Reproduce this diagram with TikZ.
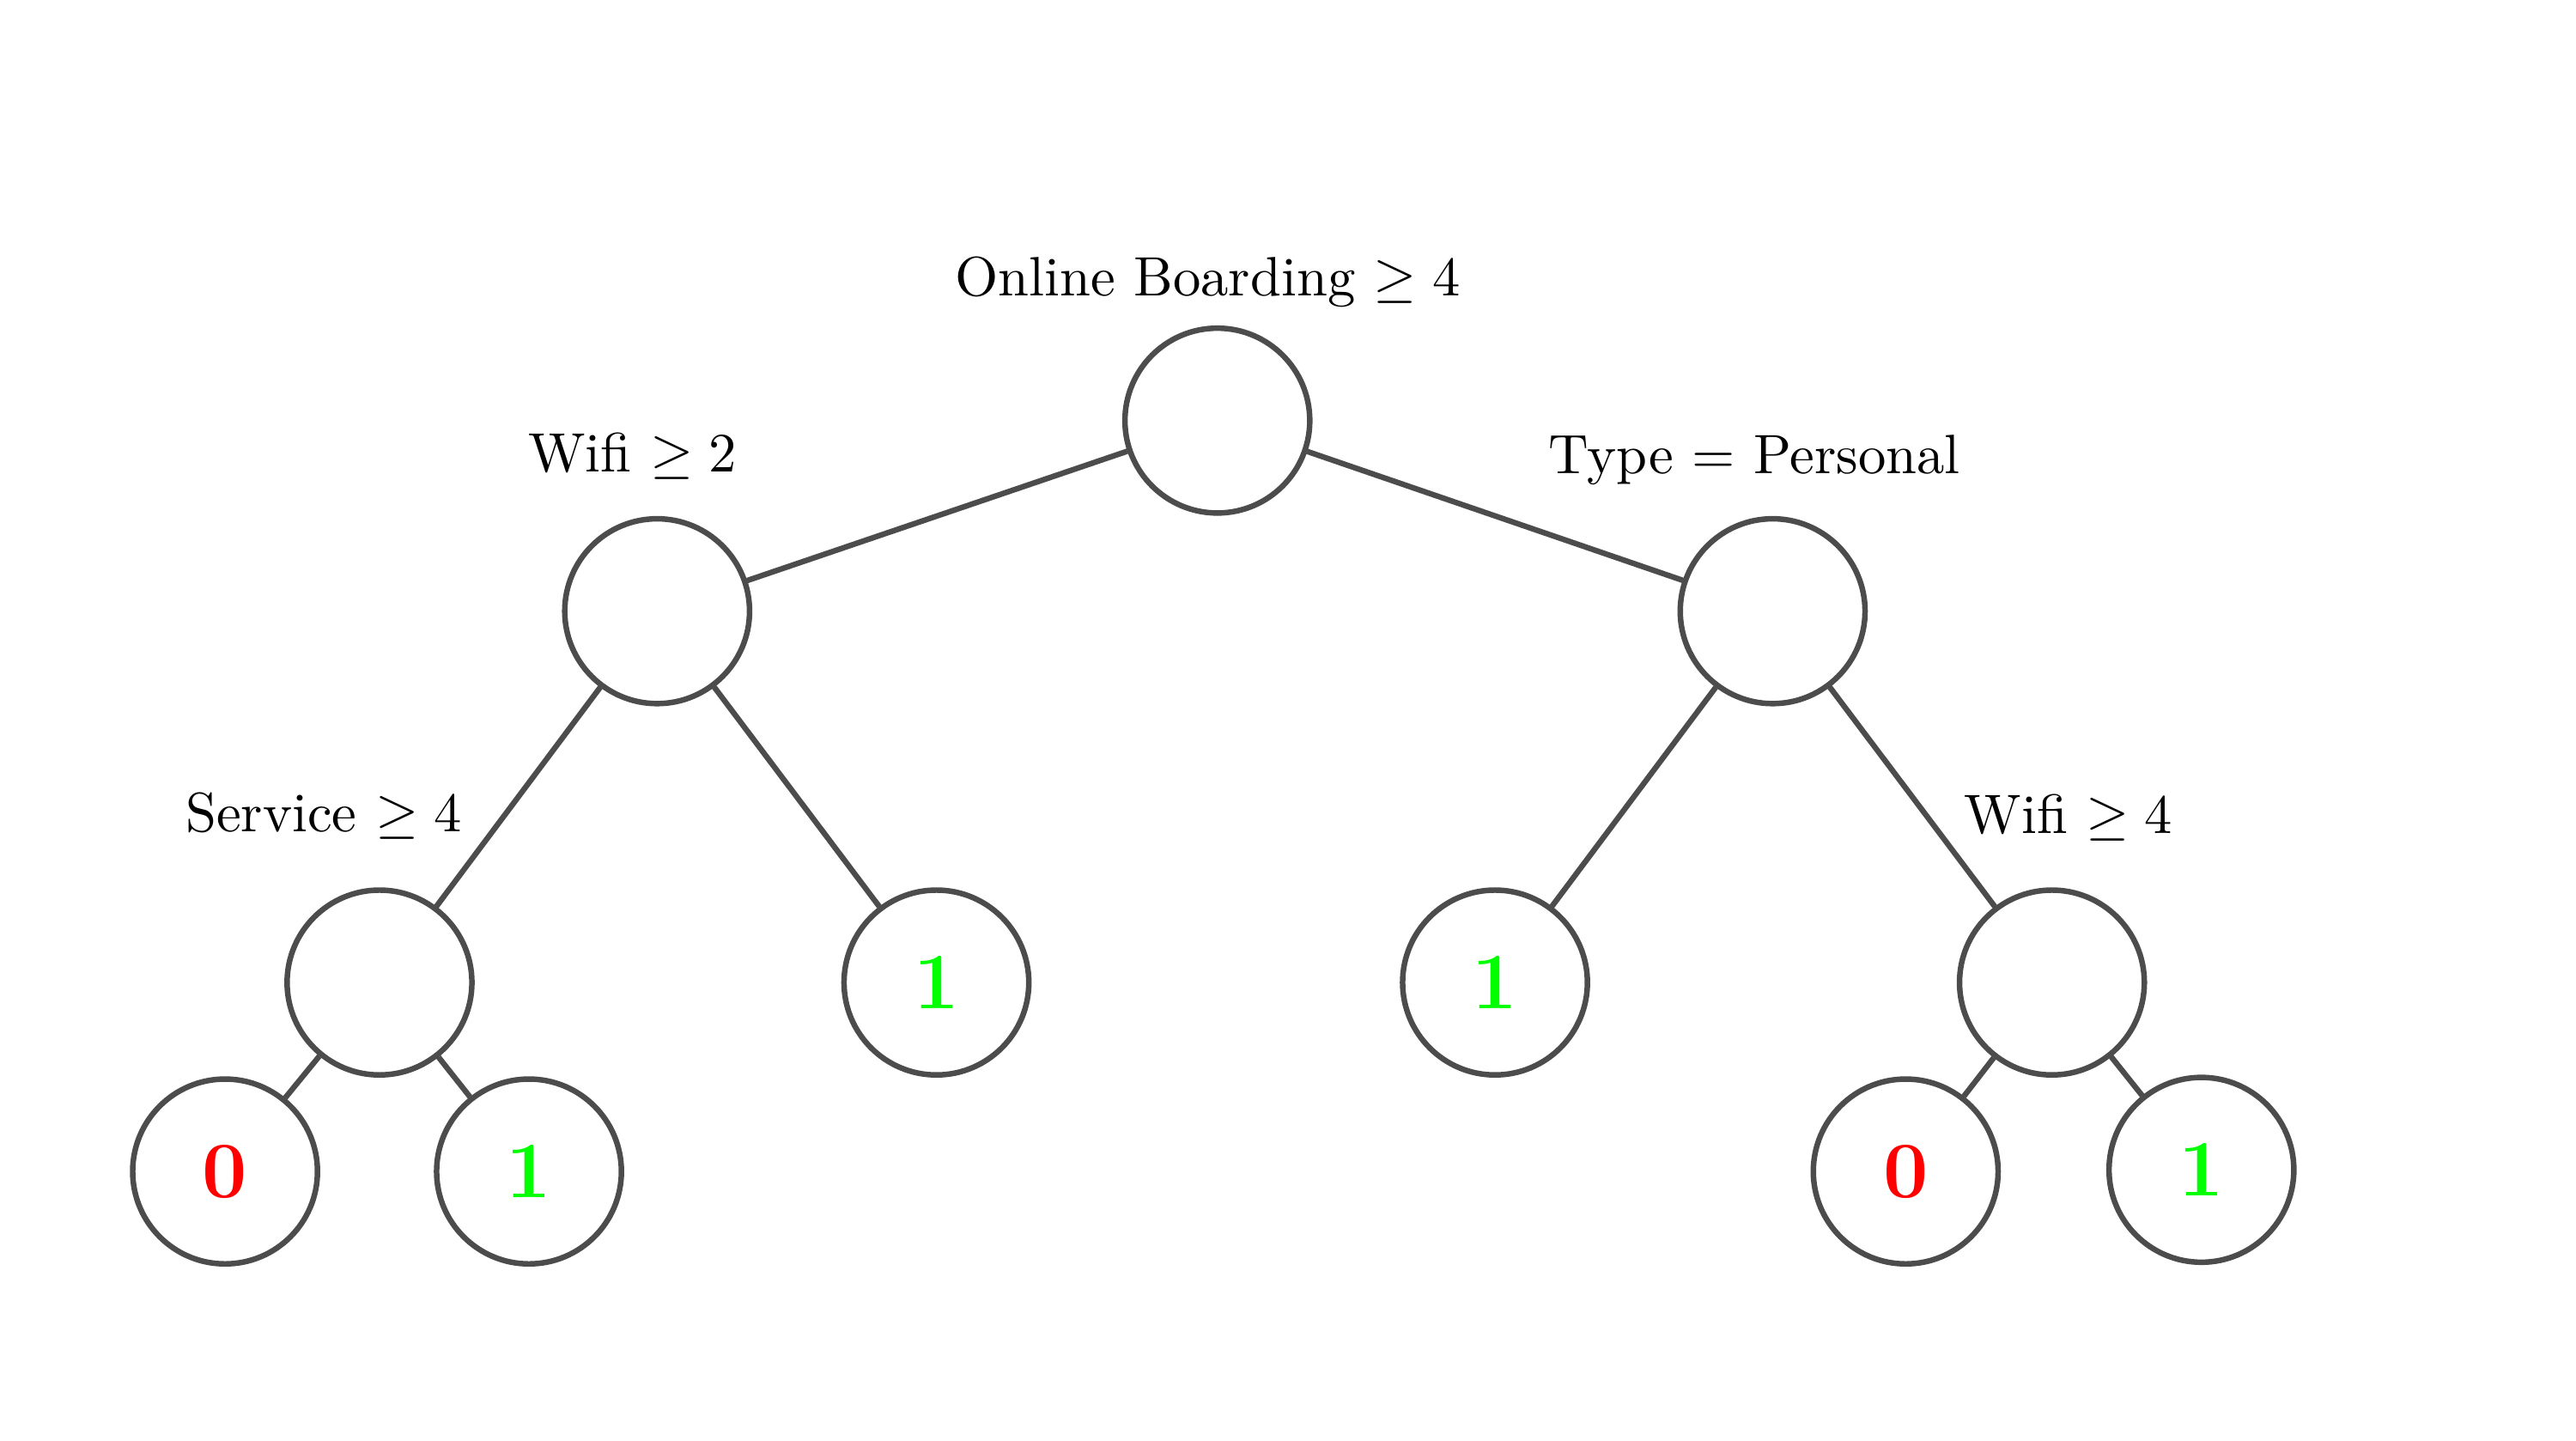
\documentclass[tikz,border=0pt]{standalone}
\usepackage{amsmath,amssymb}
\usepackage{xcolor}
\usetikzlibrary{positioning}
\definecolor{leafred}{HTML}{FF0000}
\definecolor{leafgreen}{HTML}{00FF00}
\tikzset{
  split/.style={circle,draw=black,draw opacity=0.7,line width=1pt,minimum size=1.17cm,inner sep=0pt},
  leaf/.style={split,font=\Large\bfseries},
  cond/.style={anchor=base,inner sep=0pt},
  branch/.style={draw=black,draw opacity=0.7,line width=1pt},
}

\begin{document}
\begin{tikzpicture}[x=1.04cm,y=1.04cm]
\useasboundingbox (0,0) rectangle (15.68,8.77);
% split nodes
\node[split] (root) at (7.41,6.21) {};
\node[split] (wifitwo) at (4.00,5.05) {};
\node[split] (type) at (10.79,5.05) {};
\node[split] (service) at (2.31,2.79) {};
\node[split] (wififour) at (12.49,2.79) {};

% leaves
\node[leaf,text=leafgreen] (oneA) at (5.70,2.79) {1};
\node[leaf,text=leafgreen] (oneB) at (9.10,2.79) {1};
\node[leaf,text=leafred] (zeroA) at (1.37,1.64) {0};
\node[leaf,text=leafgreen] (oneC) at (3.22,1.64) {1};
\node[leaf,text=leafred] (zeroB) at (11.60,1.64) {0};
\node[leaf,text=leafgreen] (oneD) at (13.40,1.65) {1};

% conditions
\node[cond] (rootlab) at (7.35,6.97) {Online Boarding $\geq 4$};
\node[cond] (wifitwolab) at (3.85,5.90) {Wifi $\geq 2$};
\node[cond] (typelab) at (10.68,5.89) {Type $=$ Personal};
\node[cond] (servicelab) at (1.97,3.71) {Service $\geq 4$};
\node[cond] (wififourlab) at (12.59,3.70) {Wifi $\geq 4$};

% branches
\foreach \a/\b in {root/wifitwo, root/type, wifitwo/service, wifitwo/oneA,
                   type/oneB, type/wififour, service/zeroA, service/oneC,
                   wififour/zeroB, wififour/oneD} {
  \draw[branch] (\a) -- (\b);
}
\end{tikzpicture}
\end{document}
